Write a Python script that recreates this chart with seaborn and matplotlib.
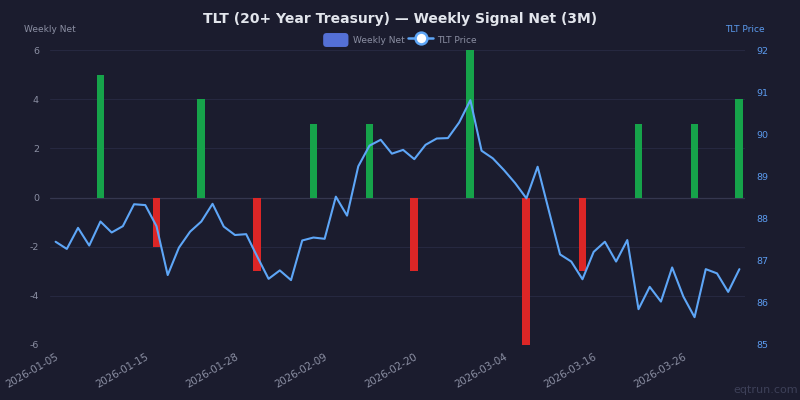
import numpy as np
import pandas as pd
import matplotlib
matplotlib.use("Agg")
import matplotlib.pyplot as plt
from matplotlib.patches import Patch, FancyBboxPatch
from matplotlib.lines import Line2D
from matplotlib.legend_handler import HandlerPatch
import seaborn as sns

dates = [
    "2026-01-05", "2026-01-06", "2026-01-07", "2026-01-08", "2026-01-09",
    "2026-01-12", "2026-01-13", "2026-01-14", "2026-01-15", "2026-01-16",
    "2026-01-20", "2026-01-21", "2026-01-22", "2026-01-23",
    "2026-01-26", "2026-01-27", "2026-01-28", "2026-01-29", "2026-01-30",
    "2026-02-02", "2026-02-03", "2026-02-04", "2026-02-05", "2026-02-06",
    "2026-02-09", "2026-02-10", "2026-02-11", "2026-02-12", "2026-02-13",
    "2026-02-17", "2026-02-18", "2026-02-19", "2026-02-20",
    "2026-02-23", "2026-02-24", "2026-02-25", "2026-02-26", "2026-02-27",
    "2026-03-02", "2026-03-03", "2026-03-04", "2026-03-05", "2026-03-06",
    "2026-03-09", "2026-03-10", "2026-03-11", "2026-03-12", "2026-03-13",
    "2026-03-16", "2026-03-17", "2026-03-18", "2026-03-19", "2026-03-20",
    "2026-03-23", "2026-03-24", "2026-03-25", "2026-03-26", "2026-03-27",
    "2026-03-30", "2026-03-31", "2026-04-01", "2026-04-02",
]

tlt_price = [
    87.45, 87.28, 87.78, 87.36, 87.93, 87.67, 87.82, 88.34, 88.32, 87.82,
    86.66, 87.31, 87.69, 87.93, 88.35, 87.81, 87.61, 87.63, 87.09, 86.57,
    86.77, 86.54, 87.48, 87.55, 87.52, 88.52, 88.07, 89.24, 89.73, 89.87,
    89.54, 89.63, 89.41, 89.75, 89.90, 89.91, 90.28, 90.81, 89.61, 89.43,
    89.15, 88.84, 88.48, 89.23, 88.19, 87.15, 86.98, 86.56, 87.21, 87.45,
    86.98, 87.49, 85.85, 86.38, 86.03, 86.84, 86.15, 85.66, 86.80, 86.70,
    86.26, 86.80,
]

bar_dates = [
    "2026-01-09", "2026-01-16", "2026-01-23", "2026-01-30", "2026-02-06",
    "2026-02-13", "2026-02-20", "2026-02-27", "2026-03-06", "2026-03-13",
    "2026-03-20", "2026-03-27", "2026-04-02",
]
weekly_net = [5, -2, 4, -3, 3, 3, -3, 6, -6, -3, 3, 3, 4]

tick_labels = dates[::8]

BG = "#1b1c2e"
GRID = "#262840"
ZERO = "#35374f"
GREEN = "#16a34a"
RED = "#dc2626"
LINE = "#5ea6f7"
LEG_BLUE = "#5470d6"
GRAY = "#8b8fa3"
RBLUE = "#5b9bef"

sns.set_theme(style="dark")
plt.rcParams["font.family"] = ["DejaVu Sans"]
plt.rcParams["axes.unicode_minus"] = False

fig = plt.figure(figsize=(8, 4), dpi=100, facecolor=BG)
ax = fig.add_axes([50 / 800, 55 / 400, 695 / 800, 295 / 400])
ax.set_facecolor(BG)

bars = pd.DataFrame({
    "date": bar_dates,
    "net": weekly_net,
    "dir": ["pos" if v >= 0 else "neg" for v in weekly_net],
})
sns.barplot(data=bars, x="date", y="net", order=dates, hue="dir",
            palette={"pos": GREEN, "neg": RED}, dodge=False, width=0.7,
            linewidth=0, saturation=1, legend=False, ax=ax, zorder=2)

ax.set_ylim(-6, 6)
ax.set_yticks([-6, -4, -2, 0, 2, 4, 6])
ax.set_xlim(-0.5, len(dates) - 0.5)
for y in [-6, -4, -2, 2, 4, 6]:
    ax.axhline(y, color=GRID, linewidth=0.8, zorder=0)
ax.axhline(0, color=ZERO, linewidth=0.9, zorder=1)
ax.grid(False)
for s in ax.spines.values():
    s.set_visible(False)
ax.tick_params(axis="both", length=0, colors=GRAY, labelsize=6.8)
ax.tick_params(axis="y", pad=8)
ax.set_xticks(range(0, len(dates), 8))
ax.set_xticklabels(tick_labels, rotation=30, ha="right",
                   rotation_mode="anchor", color=GRAY, fontsize=7.4)
ax.tick_params(axis="x", pad=5)
ax.set_xlabel("")
ax.set_ylabel("")

ax2 = ax.twinx()
price_df = pd.DataFrame({"pos": np.arange(len(dates)), "price": tlt_price})
sns.lineplot(data=price_df, x="pos", y="price", ax=ax2, color=LINE,
             linewidth=1.5, zorder=3)
ax2.set_ylim(85, 92)
ax2.set_yticks(range(85, 93))
ax2.set_xlim(-0.5, len(dates) - 0.5)
ax2.grid(False)
for s in ax2.spines.values():
    s.set_visible(False)
ax2.tick_params(axis="y", length=0, colors=RBLUE, labelsize=6.8, pad=8)
ax2.set_ylabel("")
ax2.set_xlabel("")
ax2.patch.set_visible(False)

fig.text(400 / 800, 1 - 19 / 400, "TLT (20+ Year Treasury) \u2014 Weekly Signal Net (3M)",
         ha="center", va="center", color="#e2e5ec", fontsize=10, fontweight="bold")
fig.text(50 / 800, 1 - 30 / 400, "Weekly Net", ha="center", va="center",
         color=GRAY, fontsize=6.5)
fig.text(745 / 800, 1 - 30 / 400, "TLT Price", ha="center", va="center",
         color=RBLUE, fontsize=6.5)
fig.text(798 / 800, 1 - 390 / 400, "eqtrun.com", ha="right", va="center",
         color="#3d4058", fontsize=8)


class RoundHandler(HandlerPatch):
    def create_artists(self, legend, orig_handle, xdescent, ydescent,
                       width, height, fontsize, trans):
        p = FancyBboxPatch((-xdescent, -ydescent), width, height,
                           boxstyle="round,pad=0,rounding_size=2.5",
                           facecolor=orig_handle.get_facecolor(),
                           edgecolor="none", transform=trans)
        return [p]


handles = [
    Patch(facecolor=LEG_BLUE, edgecolor="none", label="Weekly Net"),
    Line2D([0], [0], color=LINE, linewidth=1.8, marker="o", markersize=8.5,
           markerfacecolor="white", markeredgecolor=LINE, markeredgewidth=1.8,
           label="TLT Price"),
]
leg = fig.legend(handles=handles, loc="center", bbox_to_anchor=(400 / 800, 1 - 40 / 400),
                 ncol=2, frameon=False, fontsize=6.5, labelcolor=GRAY,
                 handlelength=2.8, handleheight=2.0, handletextpad=0.45,
                 columnspacing=0.4, handler_map={Patch: RoundHandler()})

fig.savefig("out.png", dpi=100, facecolor=BG)
